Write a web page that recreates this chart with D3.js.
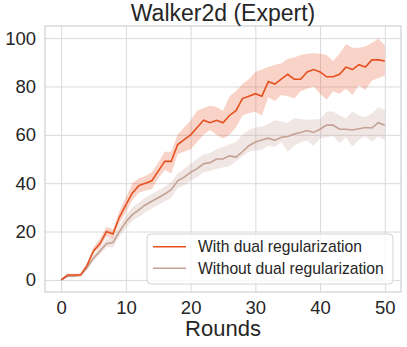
<!DOCTYPE html>
<html>
<head>
<meta charset="utf-8">
<script src="https://cdn.jsdelivr.net/npm/d3@7"></script>
<style>
  body { margin: 0; background: #fff; }
  text { font-family: "Liberation Sans", Arial, sans-serif; fill: #262626; }
</style>
</head>
<body>
<div id="chart"></div>
<script>
// rounds 0..50
const rounds = d3.range(0, 51);

// with dual regularization: mean, upper, lower
const withMean = [0, 2, 2, 2, 6, 12, 15, 20, 19, 26, 31, 36, 39, 40, 41, 45, 49, 49, 56, 58,
  60, 63, 66, 65, 66, 65, 68, 70, 75, 76, 77, 76, 82, 81, 83, 85, 83, 83, 86, 87,
  86, 84, 84, 85, 88, 87, 89, 88, 91, 91, 90.5];
const withUpper = [0.5, 2.5, 2.5, 2.8, 7, 13.5, 17, 22, 21, 28.5, 34, 40, 42, 43, 44.5, 48.5, 53, 53, 60, 63,
  66, 70, 71, 72, 71.5, 70, 76, 78, 81, 83, 86, 87, 88, 89, 89.5, 91.5, 92, 93, 93.5, 93.7,
  93.5, 93, 90.5, 93.5, 97.5, 96, 96, 96.5, 98, 99.8, 97];
const withLower = [-0.5, 1.5, 1.5, 1.5, 5, 11, 13.5, 18, 17, 23.5, 28, 33, 36, 37, 37.5, 42, 45.5, 44, 52, 53,
  54, 57, 60, 62, 60, 58.5, 60, 63, 68, 69, 69.5, 68, 75.5, 74, 76.5, 76, 75, 78, 79, 80,
  77, 74.5, 78, 77, 79, 76.5, 80.5, 78.5, 82.5, 83.5, 84.5];

// without dual regularization: mean, upper, lower
const withoutMean = [0, 1.5, 1.5, 2, 5, 9, 12, 15, 15.5, 20, 24, 27, 29, 31, 32.5, 34, 35.5, 37.3, 41, 42.5,
  44.5, 46, 48, 48.5, 50, 50, 51.3, 50.8, 53, 55.5, 57, 57.9, 58.6, 57.7, 59, 59.3, 60.3, 61, 61.8, 61,
  62.3, 64, 64, 62.3, 62.3, 62, 62.5, 63, 62.8, 65, 64];
const withoutUpper = [0.5, 2, 2, 2.5, 6, 10.5, 13.5, 17, 17.5, 22.5, 26.5, 30, 32, 34, 35.5, 37, 38.5, 40.5, 44, 46,
  48, 50, 52, 52.5, 54, 55, 56, 57, 60, 62, 63, 63.4, 64.5, 66, 65.5, 65, 66.9, 66.5, 66.2, 66.3,
  66.5, 69.6, 69.6, 68, 66.9, 69.6, 68, 67.3, 68.9, 71.4, 70.3];
const withoutLower = [-0.5, 1, 1, 1.5, 4, 8, 10.5, 13.5, 13.5, 18, 21.5, 24.5, 26, 28, 29.5, 31, 32.5, 34, 38, 39,
  41, 42.5, 44.5, 45, 46, 46.5, 47, 49, 51, 53, 53.5, 53.8, 55.5, 55, 57, 53, 55.5, 57, 57.5, 55.5,
  58.5, 59, 59.4, 56.6, 59, 55.2, 58, 59.4, 57.2, 59.4, 57.9];

const xTicks = [0, 10, 20, 30, 40, 50];
const yTicks = [0, 20, 40, 60, 80, 100];
const seriesNames = ["With dual regularization", "Without dual regularization"];

const W = 407, H = 347;
const margin = {top: 26, right: 6, bottom: 55, left: 45},
    width = W - margin.left - margin.right,
    height = H - margin.top - margin.bottom;

const svg = d3.select("#chart").append("svg")
    .attr("width", W).attr("height", H);

const g = svg.append("g")
    .attr("transform", `translate(${margin.left},${margin.top})`);

const x = d3.scaleLinear().domain([-2.5, 52.5]).range([0, width]);
const y = d3.scaleLinear().domain([-5, 105]).range([height, 0]);

// grid
g.append("g")
  .attr("transform", `translate(0,${height})`)
  .call(d3.axisBottom(x).tickValues(xTicks).tickSize(-height).tickFormat(""))
  .call(a => a.select(".domain").remove())
  .selectAll("line").attr("stroke", "#dadada").attr("stroke-width", 1);
g.append("g")
  .call(d3.axisLeft(y).tickValues(yTicks).tickSize(-width).tickFormat(""))
  .call(a => a.select(".domain").remove())
  .selectAll("line").attr("stroke", "#dadada").attr("stroke-width", 1);

// frame
g.append("rect")
  .attr("width", width).attr("height", height)
  .attr("fill", "none").attr("stroke", "#d0d0d0").attr("stroke-width", 1.2);

// tick labels
const xAxis = g.append("g")
  .attr("transform", `translate(0,${height})`)
  .call(d3.axisBottom(x).tickValues(xTicks).tickSize(0).tickPadding(9));
xAxis.select(".domain").remove();
xAxis.selectAll("text").attr("font-size", 18.5).attr("fill", "#262626")
  .attr("font-family", "Liberation Sans, Arial, sans-serif");

const yAxis = g.append("g")
  .call(d3.axisLeft(y).tickValues(yTicks).tickSize(0).tickPadding(9));
yAxis.select(".domain").remove();
yAxis.selectAll("text").attr("font-size", 18.5).attr("fill", "#262626")
  .attr("font-family", "Liberation Sans, Arial, sans-serif");

const colors = ["#e6501e", "#c4a192"];
const series = [
  {mean: withMean, up: withUpper, lo: withLower},
  {mean: withoutMean, up: withoutUpper, lo: withoutLower}
];

const area = d3.area()
  .x((d, i) => x(rounds[i]))
  .y0(d => y(d[0]))
  .y1(d => y(d[1]));
const line = d3.line()
  .x((d, i) => x(rounds[i]))
  .y(d => y(d));

// bands then lines, drawn in reverse so the red one sits on top
[1, 0].forEach(k => {
  const s = series[k];
  g.append("path")
    .datum(s.lo.map((v, i) => [v, s.up[i]]))
    .attr("d", area)
    .attr("fill", colors[k]).attr("fill-opacity", 0.25);
});
[1, 0].forEach(k => {
  g.append("path")
    .datum(series[k].mean)
    .attr("d", line)
    .attr("fill", "none").attr("stroke", colors[k]).attr("stroke-width", 1.6);
});

// legend
const leg = g.append("g").attr("transform", `translate(${147 - margin.left},${234 - margin.top})`);
leg.append("rect")
  .attr("width", 246).attr("height", 50).attr("rx", 4)
  .attr("fill", "#fff").attr("fill-opacity", 0.8)
  .attr("stroke", "#d4d4d4").attr("stroke-width", 1);
seriesNames.forEach((name, i) => {
  const yy = 12.7 + i * 21.6;
  leg.append("line")
    .attr("x1", 6).attr("x2", 39).attr("y1", yy).attr("y2", yy)
    .attr("stroke", colors[i]).attr("stroke-width", 1.6);
  leg.append("text")
    .attr("x", 51).attr("y", yy).attr("dy", "0.35em")
    .attr("font-size", 15.7)
    .text(name);
});

// title and x label
svg.append("text")
  .attr("x", margin.left + width / 2).attr("y", 21)
  .attr("text-anchor", "middle").attr("font-size", 23)
  .text("Walker2d (Expert)");
svg.append("text")
  .attr("x", margin.left + width / 2).attr("y", 336)
  .attr("text-anchor", "middle").attr("font-size", 22)
  .text("Rounds");
</script>
</body>
</html>
